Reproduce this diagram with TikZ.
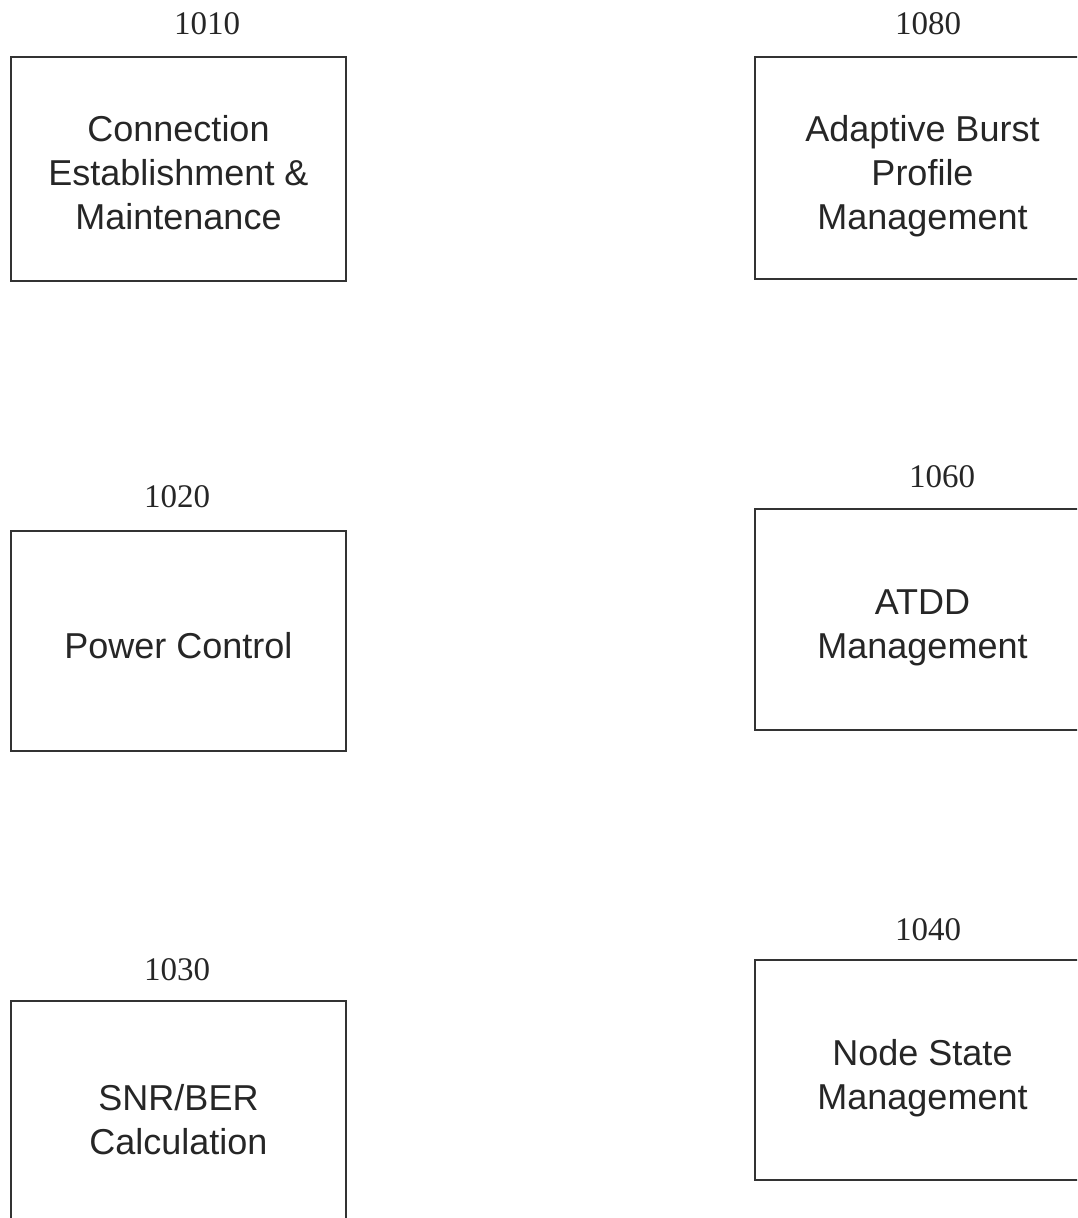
\documentclass[tikz,border=0pt]{standalone}
\usepackage{fontspec}
\setmainfont{Liberation Sans}
\newfontfamily\numfont{Liberation Serif}
\begin{document}
\begin{tikzpicture}[x=1pt,y=-1pt,
  blk/.style={draw=black!80, line width=1.3pt, minimum width=335pt, inner sep=0pt},
  txt/.style={align=center, font=\fontsize{36}{44}\selectfont, text=black!85, inner sep=0pt},
  lbl/.style={font=\numfont\fontsize{33}{33}\selectfont, text=black!85, inner sep=0pt}]
\useasboundingbox (0,0) rectangle (1077,1218);
\clip (0,0) rectangle (1077,1218);
% left column
\node[blk, minimum height=224pt, label={[txt, yshift=-4pt]center:Connection\\Establishment \&\\Maintenance}] (b1010) at (178.5,169) {};
\node[lbl] (l1010) at (207,24) {1010};
\node[blk, minimum height=220pt, label={[txt, yshift=-5pt]center:Power Control}] (b1020) at (178.5,641) {};
\node[lbl] (l1020) at (177,497) {1020};
\node[blk, minimum height=234pt, label={[txt, yshift=-2pt]center:SNR/BER\\Calculation}] (b1030) at (178.5,1118) {};
\node[lbl] (l1030) at (177,970) {1030};
% right column
\node[blk, minimum height=222pt, label={[txt, yshift=-8pt]center:Adaptive Burst\\Profile\\Management}] (b1080) at (922.5,168) {};
\node[lbl] (l1080) at (928,24) {1080};
\node[blk, minimum height=221pt, label={[txt, yshift=-8pt]center:ATDD\\Management}] (b1060) at (922.5,619.5) {};
\node[lbl] (l1060) at (942,477) {1060};
\node[blk, minimum height=220pt, label={[txt, yshift=-8pt]center:Node State\\Management}] (b1040) at (922.5,1070) {};
\node[lbl] (l1040) at (928,930) {1040};
\end{tikzpicture}
\end{document}
